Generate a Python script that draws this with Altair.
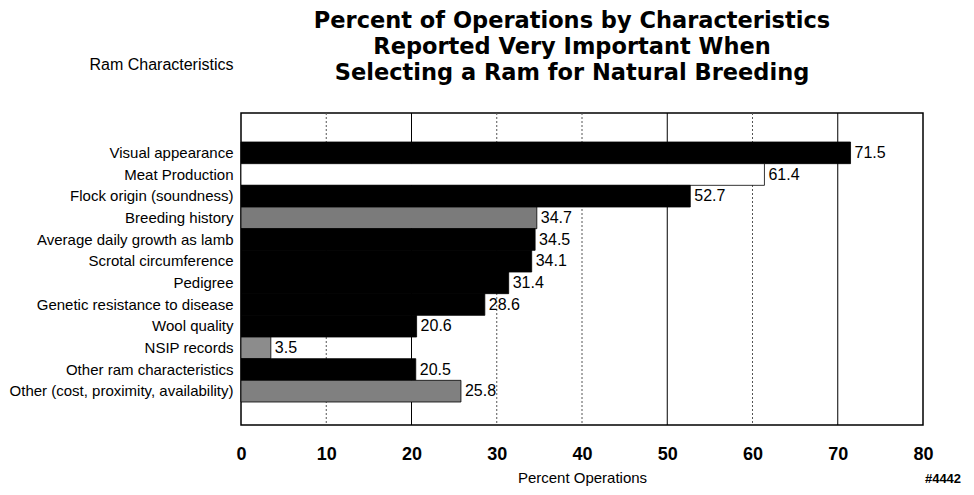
import altair as alt
import pandas as pd

characteristics = [
    "Visual appearance",
    "Meat Production",
    "Flock origin (soundness)",
    "Breeding history",
    "Average daily growth as lamb",
    "Scrotal circumference",
    "Pedigree",
    "Genetic resistance to disease",
    "Wool quality",
    "NSIP records",
    "Other ram characteristics",
    "Other (cost, proximity, availability)",
]
percents = [71.5, 61.4, 52.7, 34.7, 34.5, 34.1, 31.4, 28.6, 20.6, 3.5, 20.5, 25.8]
fills = ["#000000", "#ffffff", "#000000", "#7b7b7b", "#000000", "#000000",
         "#000000", "#000000", "#000000", "#8c8c8c", "#000000", "#808080"]
labels = [f"{v:.1f}" for v in percents]

# vertical gridlines of the scanned original: some solid, some dotted
grid_values = [10, 20, 30, 40, 50, 60, 70]
grid_styles = ["dotted", "solid", "dotted", "dotted", "solid", "dotted", "solid"]
tick_values = [0, 10, 20, 30, 40, 50, 60, 70, 80]

df = pd.DataFrame({"characteristic": characteristics, "percent": percents,
                   "fill": fills, "label": labels})
grid_df = pd.DataFrame({"value": grid_values, "style": grid_styles})

FONT = "Liberation Sans"

x_scale = alt.Scale(domain=[0, 80], nice=False, zero=True)

x_axis = alt.Axis(
    title="Percent Operations",
    values=tick_values,
    format="d",
    titleFont=FONT,
    titleFontSize=15,
    titleFontWeight="normal",
    titleColor="#000",
    titlePadding=7,
    labelFont=FONT,
    labelFontSize=18,
    labelFontWeight="bold",
    labelColor="#000",
    labelPadding=20,
    labelFlush=False,
    ticks=False,
    domain=False,
    grid=False,
)

y_enc = alt.Y(
    "characteristic:N",
    sort=characteristics,
    scale=alt.Scale(paddingInner=0, paddingOuter=0, range=[29, 289]),
    axis=alt.Axis(
        title="Ram Characteristics",
        titleAngle=0,
        titleAlign="right",
        titleBaseline="middle",
        titleX=-8,
        titleY=-49,
        titleFont=FONT,
        titleFontSize=16,
        titleFontWeight="normal",
        titleColor="#000",
        labelFont=FONT,
        labelFontSize=15,
        labelColor="#000",
        labelPadding=8,
        labelLimit=300,
        ticks=False,
        domain=False,
        grid=False,
    ),
)

grid = alt.Chart(grid_df).mark_rule(strokeWidth=1).encode(
    x=alt.X("value:Q", scale=x_scale, axis=x_axis),
    color=alt.Color("style:N", scale=alt.Scale(domain=["solid", "dotted"], range=["#000000", "#555555"]), legend=None),
    strokeDash=alt.StrokeDash("style:N", scale=alt.Scale(domain=["solid", "dotted"], range=[[1, 0], [2, 2]]), legend=None),
)

bars = alt.Chart(df).mark_bar(stroke="#000", strokeWidth=0.8).encode(
    x=alt.X("percent:Q", scale=x_scale, axis=x_axis),
    y=y_enc,
    fill=alt.Fill("fill:N", scale=None, legend=None),
)

text = alt.Chart(df).mark_text(
    align="left", baseline="middle", dx=4, font=FONT, fontSize=16, color="#000"
).encode(
    x=alt.X("percent:Q", scale=x_scale, axis=x_axis),
    y=alt.Y("characteristic:N", sort=characteristics),
    text="label:N",
)

note = alt.Chart(pd.DataFrame({"t": ["#4442"]})).mark_text(
    align="center", baseline="middle", font=FONT, fontSize=13, fontWeight="bold", color="#000"
).encode(
    x=alt.value(702),
    y=alt.value(366),
    text="t:N",
)

chart = alt.layer(grid, bars, text, note).properties(
    width=682,
    height=312,
    background="#ffffff",
    title=alt.TitleParams(
        text=["Percent of Operations by Characteristics",
              "Reported Very Important When",
              "Selecting a Ram for Natural Breeding"],
        font="DejaVu Sans",
        fontSize=22.5,
        fontWeight="bold",
        color="#000",
        lineHeight=26,
        anchor="middle",
        frame="group",
        offset=4,
        dx=-10,
        dy=32,
    ),
    autosize=alt.AutoSizeParams(type="none"),
    padding={"left": 233, "top": 105, "right": 43, "bottom": 62},
).resolve_scale(
    color="independent", strokeDash="independent"
).configure_view(
    stroke="#000", strokeWidth=1.5
)

chart.save("out.html", embed_options={"renderer": "svg", "actions": False})
